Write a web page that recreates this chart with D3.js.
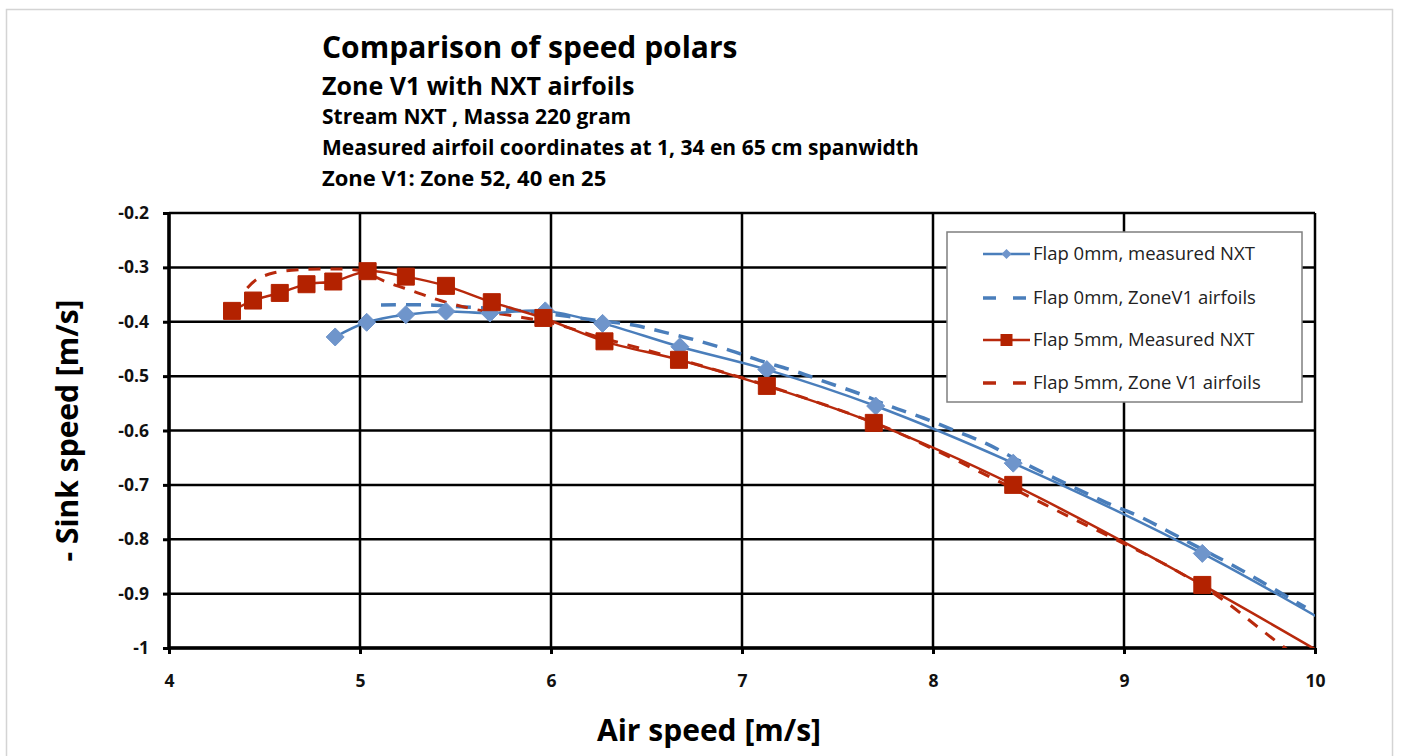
<!DOCTYPE html>
<html>
<head>
<meta charset="utf-8">
<script src="https://cdn.jsdelivr.net/npm/d3@7"></script>
<style>
  html, body { margin: 0; padding: 0; background: #fff; }
  svg { display: block; }
  text { font-family: "Open Sans", Lato, sans-serif; }
</style>
</head>
<body>
<svg id="chart" width="1401" height="756"></svg>
<script>
// ---------------- data ----------------
const titleLines = [
  "Comparison of speed polars",
  "Zone V1 with NXT airfoils",
  "Stream NXT , Massa 220 gram",
  "Measured airfoil coordinates at 1, 34 en 65 cm spanwidth",
  "Zone V1: Zone 52, 40 en 25"
];
const xTicks = [4, 5, 6, 7, 8, 9, 10];
const yTicks = [-0.2, -0.3, -0.4, -0.5, -0.6, -0.7, -0.8, -0.9, -1];
const yTickLabels = ["-0.2", "-0.3", "-0.4", "-0.5", "-0.6", "-0.7", "-0.8", "-0.9", "-1"];
const xLabel = "Air speed [m/s]";
const yLabel = "- Sink speed [m/s]";
const seriesNames = [
  "Flap 0mm, measured NXT",
  "Flap 0mm, ZoneV1 airfoils",
  "Flap 5mm, Measured NXT",
  "Flap 5mm, Zone V1 airfoils"
];

// Flap 0mm, measured NXT (last point lies beyond the x axis and is clipped)
const flap0MeasuredX = [4.87, 5.035, 5.24, 5.45, 5.68, 5.97, 6.27, 6.675, 7.13, 7.70, 8.42, 9.41, 10.45];
const flap0MeasuredY = [-0.428, -0.401, -0.387, -0.381, -0.384, -0.380, -0.403, -0.446, -0.488, -0.555, -0.660, -0.826, -1.032];

// Flap 0mm, ZoneV1 airfoils
const flap0ZoneX = [5.11, 5.35, 5.50, 5.75, 6.00, 6.25, 6.43, 6.59, 6.76, 6.94, 7.09, 7.27, 7.44, 7.62, 7.78, 7.95, 8.12, 8.28, 8.42, 8.58, 8.74, 8.91, 9.08, 9.24, 9.39, 9.56, 9.71, 9.87, 9.95];
const flap0ZoneY = [-0.369, -0.369, -0.372, -0.377, -0.386, -0.398, -0.406, -0.419, -0.434, -0.453, -0.471, -0.490, -0.511, -0.533, -0.556, -0.577, -0.601, -0.624, -0.650, -0.678, -0.705, -0.733, -0.758, -0.787, -0.815, -0.846, -0.876, -0.909, -0.925];

// Flap 5mm, Measured NXT (last point lies beyond the x axis and is clipped)
const flap5MeasuredX = [4.33, 4.44, 4.58, 4.72, 4.86, 5.04, 5.24, 5.45, 5.69, 5.96, 6.28, 6.67, 7.13, 7.69, 8.42, 9.41, 10.45];
const flap5MeasuredY = [-0.380, -0.361, -0.347, -0.331, -0.326, -0.307, -0.317, -0.334, -0.364, -0.393, -0.436, -0.470, -0.518, -0.586, -0.700, -0.884, -1.095];

// Flap 5mm, Zone V1 airfoils
const flap5ZoneX = [4.41, 4.46, 4.55, 4.70, 4.86, 5.00, 5.14, 5.28, 5.42, 5.60, 5.85, 6.00, 6.25, 6.50, 6.75, 7.00, 7.25, 7.50, 7.75, 8.00, 8.25, 8.50, 8.75, 9.00, 9.25, 9.50, 9.75, 9.90];
const flap5ZoneY = [-0.338, -0.322, -0.310, -0.304, -0.303, -0.306, -0.327, -0.344, -0.361, -0.377, -0.392, -0.402, -0.428, -0.452, -0.477, -0.503, -0.531, -0.561, -0.594, -0.634, -0.677, -0.721, -0.765, -0.808, -0.853, -0.907, -0.975, -1.015];

// ---------------- layout / style ----------------
const blue = "#4a7ebb", blueMarker = "#6f95cb";
const red = "#b8290c", redMarker = "#b32200";
const series = [
  { name: seriesNames[0], xs: flap0MeasuredX, ys: flap0MeasuredY, color: blue, marker: "diamond", mcolor: blueMarker, dash: null, width: 2.5 },
  { name: seriesNames[1], xs: flap0ZoneX, ys: flap0ZoneY, color: blue, marker: null, dash: "15,10", width: 3.5 },
  { name: seriesNames[2], xs: flap5MeasuredX, ys: flap5MeasuredY, color: red, marker: "square", mcolor: redMarker, dash: null, width: 2.5 },
  { name: seriesNames[3], xs: flap5ZoneX, ys: flap5ZoneY, color: red, marker: null, dash: "12,10", width: 3 }
];

const svg = d3.select("#chart");
const plot = { left: 169, right: 1315, top: 213, bottom: 648 };

const x = d3.scaleLinear().domain([4, 10]).range([plot.left, plot.right]);
const y = d3.scaleLinear().domain([-1, -0.2]).range([plot.bottom, plot.top]);

// outer chart frame
svg.append("rect")
  .attr("x", 6.5).attr("y", 9.5).attr("width", 1386).attr("height", 760)
  .attr("fill", "#fff").attr("stroke", "#d4d4d4").attr("stroke-width", 1.5);

// titles
const titleSizes = [30, 25, 21, 21, 22];
const titleY = [58, 95, 124, 155, 186];
titleLines.forEach((t, i) => {
  svg.append("text").attr("x", 322).attr("y", titleY[i])
    .attr("font-size", titleSizes[i]).attr("font-weight", "bold")
    .attr("fill", "#000").text(t);
});

// gridlines
const grid = svg.append("g");
grid.selectAll("line.h").data(yTicks).join("line")
  .attr("x1", plot.left).attr("x2", plot.right)
  .attr("y1", d => y(d)).attr("y2", d => y(d))
  .attr("stroke", "#000").attr("stroke-width", 2.5);
grid.selectAll("line.v").data(xTicks).join("line")
  .attr("y1", plot.top).attr("y2", plot.bottom)
  .attr("x1", d => x(d)).attr("x2", d => x(d))
  .attr("stroke", "#000").attr("stroke-width", 2.5);

// axes
const yAxis = d3.axisLeft(y).tickValues(yTicks).tickSize(6).tickPadding(14)
  .tickFormat((d, i) => yTickLabels[i]);
const xAxis = d3.axisBottom(x).tickValues(xTicks).tickSize(6).tickPadding(21)
  .tickFormat(d => String(d));

const gy = svg.append("g").attr("transform", `translate(${plot.left},0)`).call(yAxis);
const gx = svg.append("g").attr("transform", `translate(0,${plot.bottom})`).call(xAxis);
[gx, gy].forEach(g => {
  g.select(".domain").attr("stroke", "#000").attr("stroke-width", 3.5);
  g.selectAll(".tick line").attr("stroke", "#000").attr("stroke-width", 3);
  g.selectAll(".tick text").attr("font-family", "'Open Sans', sans-serif")
    .attr("font-size", 17.5).attr("font-weight", "bold").attr("fill", "#111");
});
gy.select(".domain").attr("d", `M0,${plot.top}V${plot.bottom}`);
gx.select(".domain").attr("d", `M${plot.left},0H${plot.right}`);

// axis titles
svg.append("text")
  .attr("transform", `translate(78,${(plot.top + plot.bottom) / 2}) rotate(-90)`)
  .attr("text-anchor", "middle").attr("font-size", 30).attr("font-weight", "bold")
  .text(yLabel);
svg.append("text")
  .attr("x", 709).attr("y", 741)
  .attr("text-anchor", "middle").attr("font-size", 30).attr("font-weight", "bold")
  .text(xLabel);

// clip region
svg.append("clipPath").attr("id", "plotclip").append("rect")
  .attr("x", plot.left).attr("y", plot.top - 20)
  .attr("width", plot.right - plot.left).attr("height", plot.bottom - plot.top + 20);

const line = d3.line().x(d => x(d[0])).y(d => y(d[1])).curve(d3.curveCatmullRom.alpha(0.5));
const lines = svg.append("g").attr("clip-path", "url(#plotclip)");

const diamond = s => `M0,${-s}L${s},0L0,${s}L${-s},0Z`;
const square = s => `M${-s},${-s}H${s}V${s}H${-s}Z`;

// draw dashed first, then measured lines and markers
const order = [1, 3, 0, 2];
order.forEach(i => {
  const s = series[i];
  const pts = s.xs.map((v, k) => [v, s.ys[k]]);
  lines.append("path").datum(pts)
    .attr("d", line).attr("fill", "none")
    .attr("stroke", s.color).attr("stroke-width", s.width)
    .attr("stroke-dasharray", s.dash);
  if (s.marker) {
    const inside = pts.filter(p => p[0] >= 4 && p[0] <= 10);
    svg.append("g").selectAll("path").data(inside).join("path")
      .attr("transform", d => `translate(${x(d[0])},${y(d[1])})`)
      .attr("d", s.marker === "diamond" ? diamond(9) : square(8.5))
      .attr("fill", s.mcolor).attr("stroke", s.mcolor).attr("stroke-width", 1);
  }
});

// legend
const lg = svg.append("g");
lg.append("rect").attr("x", 947).attr("y", 232).attr("width", 355).attr("height", 170)
  .attr("fill", "#fff").attr("stroke", "#7f7f7f").attr("stroke-width", 1.5);
const legY = [254, 298, 340, 383];
series.forEach((s, i) => {
  const gy0 = legY[i];
  lg.append("line").attr("x1", 983).attr("x2", 1030).attr("y1", gy0).attr("y2", gy0)
    .attr("stroke", s.color).attr("stroke-width", s.dash ? 3.5 : 2.5)
    .attr("stroke-dasharray", s.dash ? "13,17" : null);
  if (s.marker) {
    lg.append("path").attr("transform", `translate(1006.5,${gy0})`)
      .attr("d", s.marker === "diamond" ? diamond(5) : square(6))
      .attr("fill", s.mcolor);
  }
  lg.append("text").attr("x", 1033).attr("y", gy0 + 6)
    .attr("font-size", 18.5).attr("fill", "#222").text(s.name);
});
</script>
</body>
</html>
